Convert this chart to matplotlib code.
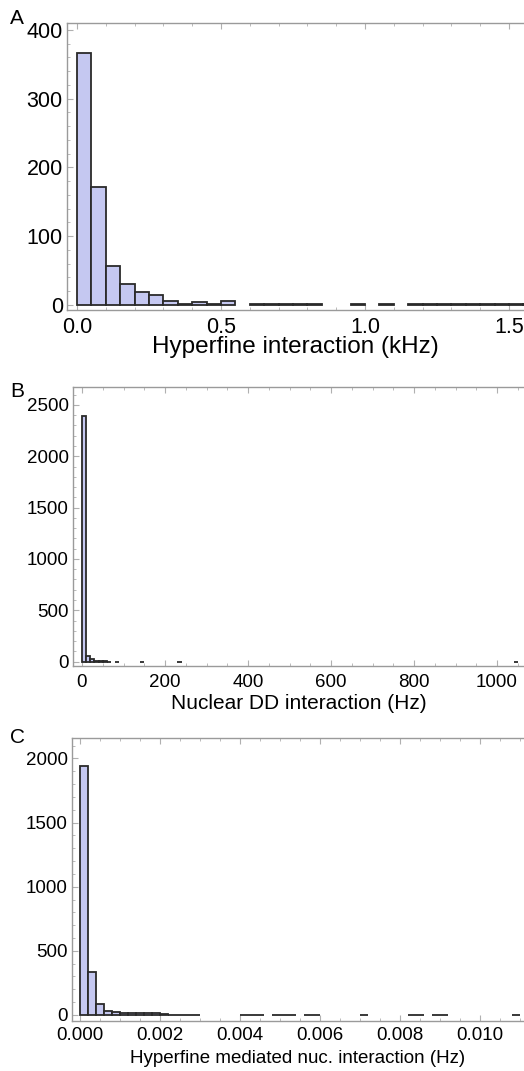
import matplotlib.pyplot as plt
import numpy as np
from matplotlib.ticker import MultipleLocator

plt.rcParams['font.family'] = ['Liberation Sans', 'DejaVu Sans']

# panel A: hyperfine interaction (kHz), bins of 0.05
a_width = 0.05
a_counts = [367, 172, 57, 30, 19, 14, 5, 2, 4, 2, 5, 0,
            1, 1, 1, 1, 1, 0, 0, 1, 0, 1, 0,
            1, 1, 1, 1, 1, 1, 2, 1, 1]

# panel B: nuclear DD interaction (Hz), bins of 10
b_width = 10
b_counts = [2395, 58, 28, 6, 3, 2, 1, 0, 1] + [0] * 5 + [1] + [0] * 8 + [1] + [0] * 80 + [1]

# panel C: hyperfine mediated nuclear interaction (Hz), bins of 0.0002
c_width = 0.0002
c_counts = [1940, 338, 83, 31, 21, 14, 13, 13, 12, 16,
            4, 3, 3, 3, 2, 0, 0, 0, 0, 0,
            1, 1, 1, 0, 1, 1, 1, 0, 1, 1,
            0, 0, 0, 0, 0, 1, 0, 0, 0, 0,
            0, 1, 1, 0, 1, 1, 0, 0, 0, 0,
            0, 0, 0, 0, 1]

FACE = '#c5c8f1'
EDGE = '#2a2a2a'
FRAME = '#9a9a9a'


def draw_hist(ax, counts, width, xlim, ylim, xmaj, xmin, ymaj, ymin,
              xlabel, fmt, tick_fs, label_fs, pad, label_y):
    counts = np.array(counts, dtype=float)
    left = np.arange(len(counts)) * width
    keep = counts > 0
    ax.bar(left[keep], counts[keep], width=width, align='edge',
           color=FACE, edgecolor=EDGE, linewidth=1.3, zorder=3)
    ax.set_xlim(*xlim)
    ax.set_ylim(*ylim)
    ax.xaxis.set_major_locator(MultipleLocator(xmaj))
    ax.xaxis.set_minor_locator(MultipleLocator(xmin))
    ax.yaxis.set_major_locator(MultipleLocator(ymaj))
    ax.yaxis.set_minor_locator(MultipleLocator(ymin))
    ax.xaxis.set_major_formatter(fmt)
    ax.spines['right'].set_visible(False)
    for s in ('left', 'bottom', 'top'):
        ax.spines[s].set_color(FRAME)
        ax.spines[s].set_linewidth(1.0)
    ax.tick_params(which='both', direction='in', color='#b0b0b0', top=True,
                   labelsize=tick_fs)
    ax.tick_params(axis='x', pad=pad)
    ax.tick_params(axis='y', pad=3)
    ax.tick_params(which='major', length=4)
    ax.tick_params(which='minor', length=2)
    ax.set_xlabel(xlabel, fontsize=label_fs, va='center')
    ax.xaxis.set_label_coords(0.5 - (1 - ax.get_position().x1) * 0, label_y)


fig = plt.figure(figsize=(5.24, 10.71), dpi=100)

ax_a = fig.add_axes([0.1279, 0.7106, 0.8721, 0.2679])
draw_hist(ax_a, a_counts, a_width, (-0.0347, 1.552), (-7.3, 410),
          0.5, 0.1, 100, 20, 'Hyperfine interaction (kHz)', '{x:.1f}',
          15.5, 17.5, 5, -0.129)

ax_b = fig.add_axes([0.1393, 0.3782, 0.8607, 0.2605])
draw_hist(ax_b, b_counts, b_width, (-21.7, 1065), (-42, 2675),
          200, 50, 500, 100, 'Nuclear DD interaction (Hz)', '{x:.0f}',
          13.5, 15, 5.5, -0.135)

ax_c = fig.add_axes([0.1374, 0.0467, 0.8626, 0.2642])
draw_hist(ax_c, c_counts, c_width, (-0.0002, 0.0111), (-47, 2159),
          0.002, 0.0005, 500, 100, 'Hyperfine mediated nuc. interaction (Hz)', '{x:.3f}',
          13.5, 13.5, 4, -0.134)

fig.text(0.019, 0.992, 'A', fontsize=15, va='top')
fig.text(0.019, 0.643, 'B', fontsize=15, va='top')
fig.text(0.019, 0.320, 'C', fontsize=15, va='top')

fig.savefig('out.png', dpi=100)
